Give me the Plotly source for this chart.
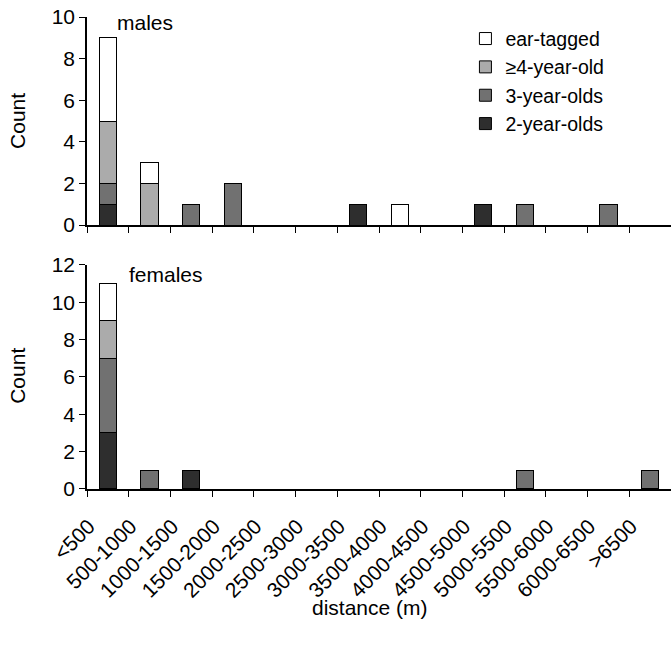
import plotly.graph_objects as go
from plotly.subplots import make_subplots

categories = ["<500", "500-1000", "1000-1500", "1500-2000", "2000-2500", "2500-3000",
              "3000-3500", "3500-4000", "4000-4500", "4500-5000", "5000-5500",
              "5500-6000", "6000-6500", ">6500"]

series_names = ["2-year-olds", "3-year-olds", "\u22654-year-old", "ear-tagged"]
series_colors = ["#2e2e2e", "#717171", "#ababab", "#ffffff"]

males_2yr = [1, 0, 0, 0, 0, 0, 1, 0, 0, 1, 0, 0, 0, 0]
males_3yr = [1, 0, 1, 2, 0, 0, 0, 0, 0, 0, 1, 0, 1, 0]
males_4yr = [3, 2, 0, 0, 0, 0, 0, 0, 0, 0, 0, 0, 0, 0]
males_ear = [4, 1, 0, 0, 0, 0, 0, 1, 0, 0, 0, 0, 0, 0]

females_2yr = [3, 0, 1, 0, 0, 0, 0, 0, 0, 0, 0, 0, 0, 0]
females_3yr = [4, 1, 0, 0, 0, 0, 0, 0, 0, 0, 1, 0, 0, 1]
females_4yr = [2, 0, 0, 0, 0, 0, 0, 0, 0, 0, 0, 0, 0, 0]
females_ear = [2, 0, 0, 0, 0, 0, 0, 0, 0, 0, 0, 0, 0, 0]

males = [males_2yr, males_3yr, males_4yr, males_ear]
females = [females_2yr, females_3yr, females_4yr, females_ear]

FONT = "Arial, Liberation Sans, sans-serif"

fig = make_subplots(rows=2, cols=1, shared_xaxes=False, vertical_spacing=0.08)


def nz(vals):
    return [v if v else None for v in vals]


for name, color, vals in zip(series_names, series_colors, males):
    fig.add_trace(go.Bar(x=categories, y=nz(vals), name=name, legendgroup=name,
                         marker=dict(color=color, line=dict(color="black", width=1)),
                         showlegend=True), row=1, col=1)
for name, color, vals in zip(series_names, series_colors, females):
    fig.add_trace(go.Bar(x=categories, y=nz(vals), name=name, legendgroup=name,
                         marker=dict(color=color, line=dict(color="black", width=1)),
                         showlegend=False), row=2, col=1)

xcommon = dict(type="category", categoryorder="array", categoryarray=categories,
               range=[-0.5, 13.5], showline=True, linecolor="black", linewidth=1.5,
               ticks="outside", tickson="boundaries", ticklen=6, tickcolor="black",
               showgrid=False, zeroline=False, automargin=False,
               ticklabeloverflow="allow")
ycommon = dict(showline=True, linecolor="black", linewidth=1.5, ticks="outside",
               ticklen=6, tickcolor="black", showgrid=False, zeroline=False, dtick=2,
               automargin=False, ticklabeloverflow="allow",
               tickfont=dict(size=21, color="black", family=FONT))

fig.update_xaxes(**xcommon, showticklabels=False, domain=[0, 1], row=1, col=1)
fig.update_xaxes(**xcommon, showticklabels=True, tickangle=-45,
                 ticklabelstandoff=15, ticklabelshift=-19,
                 tickfont=dict(size=21, color="black", family=FONT), row=2, col=1)
fig.update_yaxes(**ycommon, range=[0, 10], domain=[0.5593, 1.0], row=1, col=1)
fig.update_yaxes(**ycommon, range=[0, 12], domain=[0.0, 0.4746], row=2, col=1)

fig.update_layout(
    width=671, height=645, autosize=False,
    margin=dict(l=87, r=0, t=17, b=156, pad=0, autoexpand=False),
    paper_bgcolor="white", plot_bgcolor="white",
    barmode="stack", bargap=0.585,
    font=dict(family=FONT, size=20, color="black"),
    legend=dict(x=0.648, y=0.995, xanchor="left", yanchor="top", traceorder="reversed",
                font=dict(size=19.5, family=FONT, color="black"), bgcolor="rgba(0,0,0,0)",
                itemwidth=30, tracegroupgap=0),
    annotations=[
        dict(text="males", x=0.048, y=0.988, xref="paper", yref="paper", xanchor="left",
             yanchor="middle", showarrow=False, font=dict(size=21, family=FONT)),
        dict(text="females", x=0.068, y=0.4534, xref="paper", yref="paper", xanchor="left",
             yanchor="middle", showarrow=False, font=dict(size=21, family=FONT)),
        dict(text="Count", x=-0.118, y=0.78, xref="paper", yref="paper", textangle=-90,
             xanchor="center", yanchor="middle", showarrow=False, font=dict(size=21, family=FONT)),
        dict(text="Count", x=-0.118, y=0.24, xref="paper", yref="paper", textangle=-90,
             xanchor="center", yanchor="middle", showarrow=False, font=dict(size=21, family=FONT)),
        dict(text="distance (m)", x=0.485, y=-0.25, xref="paper", yref="paper",
             xanchor="center", yanchor="middle", showarrow=False, font=dict(size=21, family=FONT)),
    ],
)

fig.write_html("out.html", config={"displayModeBar": False},
               post_script="document.body.style.margin='0';document.body.style.overflow='hidden';")
